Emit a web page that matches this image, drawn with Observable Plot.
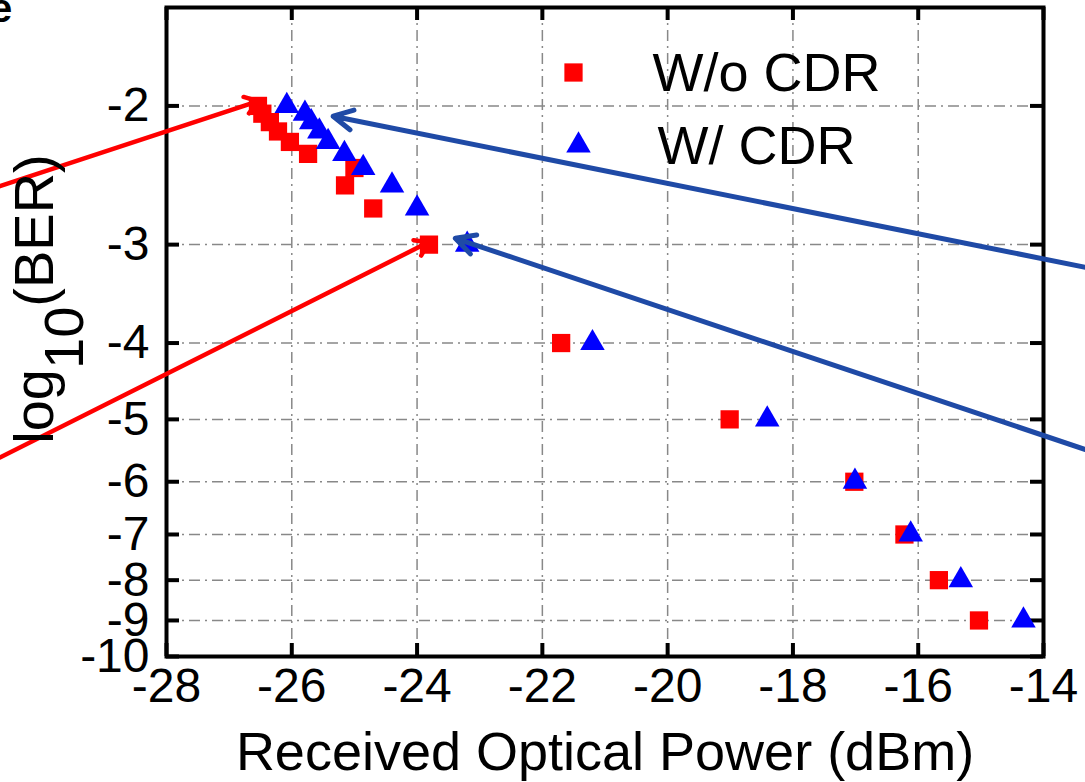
<!DOCTYPE html>
<html><head><meta charset="utf-8">
<script src="https://cdn.jsdelivr.net/npm/d3@7"></script>
<script src="https://cdn.jsdelivr.net/npm/@observablehq/plot@0.6"></script>
<style>
body{margin:0;background:#fff;}
#chart{width:1085px;height:782px;overflow:hidden;position:relative;}
#panel{position:absolute;left:-10px;top:-12px;font:bold 40px 'Liberation Sans', Arial, sans-serif;color:#000;line-height:40px;z-index:2;}
</style>
</head><body><div id="chart"><div id="panel">e</div></div>
<script>
// log10(BER) levels measured for both series
const logBER = [-2, -2.046, -2.097, -2.155, -2.222, -2.301, -2.398, -2.523, -2.699, -3, -4, -5, -6, -7, -8, -9];
// received optical power (dBm)
const powerWoCDR = [-26.54, -26.47, -26.35, -26.22, -26.03, -25.74, -25.00, -25.15, -24.70, -23.81, -21.70, -19.01, -17.02, -16.22, -15.67, -15.03];
const powerWCDR  = [-26.08, -25.79, -25.69, -25.56, -25.42, -25.16, -24.86, -24.40, -24.00, -23.20, -21.20, -18.41, -17.01, -16.12, -15.32, -14.32];
const seriesNames = ["W/o CDR", "W/ CDR"];
const xTickValues = [-28, -26, -24, -22, -20, -18, -16, -14];
const yTickValues = [-2, -3, -4, -5, -6, -7, -8, -9, -10];
// annotation arrows (from outside the axes to the data)
const arrowSeries = ["W/o CDR", "W/o CDR", "W/ CDR", "W/ CDR"];
const arrowFromPower = [-30.66, -30.66, -13.33, -13.33];
const arrowFromLogBER = [-2.529, -5.590, -3.206, -5.461];
const arrowToPower = [-26.54, -23.82, -25.34, -23.39];
const arrowToLogBER = [-1.973, -2.980, -2.061, -2.945];

const rowsWo = logBER.map((b, i) => ({series: seriesNames[0], power: powerWoCDR[i], logBER: b}));
const rowsW = logBER.map((b, i) => ({series: seriesNames[1], power: powerWCDR[i], logBER: b}));
const arrows = arrowSeries.map((s, i) => ({series: s, x1: arrowFromPower[i], y1: arrowFromLogBER[i], x2: arrowToPower[i], y2: arrowToLogBER[i]}));

const W = 1085, H = 782;
const mL = 166, mR = 42, mT = 7, mB = 126;
const fw = W - mL - mR, fh = H - mT - mB;
const font = "'Liberation Sans', Arial, Helvetica, sans-serif";
const gridX = xTickValues.slice(1, -1);
const gridY = yTickValues.slice(0, -1);
const gridStyle = {stroke: "#888888", strokeWidth: 1.5, strokeDasharray: "11,5,2,5"};
const tickLen = 13;

const yLabel = () => {
  const t = d3.create("svg:text")
    .attr("transform", "translate(53,299) rotate(-90)")
    .attr("text-anchor", "middle")
    .attr("font-size", 56)
    .attr("font-family", font)
    .attr("fill", "black");
  t.append("tspan").text("log");
  t.append("tspan").attr("dy", 30).text("10");
  t.append("tspan").attr("dy", -30).text("(BER)");
  return t.node();
};

const chart = Plot.plot({
  width: W, height: H,
  marginLeft: mL, marginRight: mR, marginTop: mT, marginBottom: mB,
  style: {fontFamily: font, background: "#fff", overflow: "visible"},
  x: {domain: [-28, -14]},
  y: {type: "log", domain: [1.5, 10], reverse: true},
  marks: [
    Plot.ruleX(gridX, {x: d => d, ...gridStyle}),
    Plot.ruleY(gridY, {y: d => -d, ...gridStyle}),
    Plot.axisX(xTickValues, {tickSize: 0, tickPadding: 11, fontSize: 48, tickFormat: d => `${d}`, label: null}),
    Plot.axisY(yTickValues.map(d => -d), {tickSize: 0, tickPadding: 17, fontSize: 48, tickFormat: d => `-${d}`, label: null}),
    Plot.ruleX(xTickValues, {x: d => d, insetTop: fh - tickLen, stroke: "black", strokeWidth: 4}),
    Plot.ruleX(xTickValues, {x: d => d, insetBottom: fh - tickLen, stroke: "black", strokeWidth: 4}),
    Plot.ruleY(yTickValues, {y: d => -d, insetRight: fw - tickLen, stroke: "black", strokeWidth: 4}),
    Plot.ruleY(yTickValues, {y: d => -d, insetLeft: fw - tickLen, stroke: "black", strokeWidth: 4}),
    Plot.frame({stroke: "black", strokeWidth: 4}),
    Plot.dot(rowsWo, {x: "power", y: d => -d.logBER, symbol: "square", r: 10.3, fill: "#ff0000"}),
    Plot.dot(rowsW, {x: "power", y: d => -d.logBER, symbol: "triangle", r: 9.1, fill: "#0000ff"}),
    Plot.arrow(arrows.filter(d => d.series === seriesNames[0]), {x1: "x1", y1: d => -d.y1, x2: "x2", y2: d => -d.y2, stroke: "#ff0000", strokeWidth: 4.5, headLength: 5, headAngle: 70}),
    Plot.arrow(arrows.filter(d => d.series === seriesNames[1]), {x1: "x1", y1: d => -d.y1, x2: "x2", y2: d => -d.y2, stroke: "#1f4aa6", strokeWidth: 5, headLength: 6.5, headAngle: 55}),
    // legend
    Plot.dot([seriesNames[0]], {x: null, y: null, frameAnchor: "top-left", dx: 407, dy: 65, symbol: "square", r: 10.3, fill: "#ff0000"}),
    Plot.dot([seriesNames[1]], {x: null, y: null, frameAnchor: "top-left", dx: 412, dy: 138, symbol: "triangle", r: 9.1, fill: "#0000ff"}),
    Plot.text([seriesNames[0]], {x: null, y: null, text: d => d, frameAnchor: "top-left", dx: 486, dy: 83, textAnchor: "start", lineAnchor: "bottom", fontSize: 54, fill: "black"}),
    Plot.text([seriesNames[1]], {x: null, y: null, text: d => d, frameAnchor: "top-left", dx: 491, dy: 156, textAnchor: "start", lineAnchor: "bottom", fontSize: 54, fill: "black"}),
    Plot.text(["Received Optical Power (dBm)"], {x: null, y: null, text: d => d, frameAnchor: "bottom", dy: 113, lineAnchor: "bottom", fontSize: 54, fill: "black"}),
    yLabel
  ]
});
document.getElementById("chart").append(chart);
</script>
</body></html>
